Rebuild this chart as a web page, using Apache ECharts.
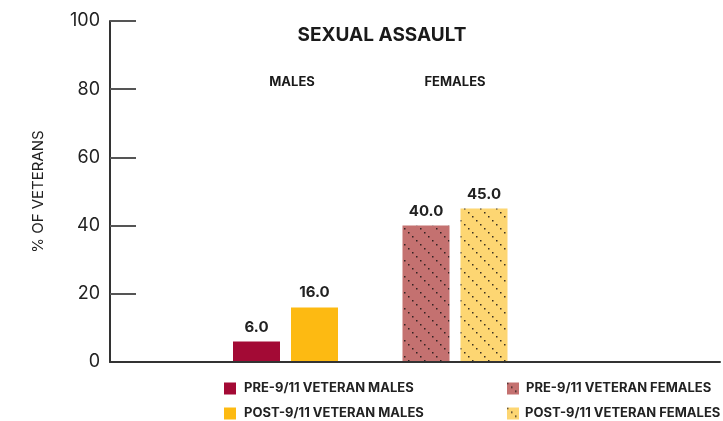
<!DOCTYPE html>
<html>
<head>
<meta charset="utf-8">
<script src="https://cdn.jsdelivr.net/npm/echarts@6/dist/echarts.min.js"></script>
<style>
html,body{margin:0;padding:0;background:#fff;}
#chart{width:723px;height:421px;}
</style>
</head>
<body>
<div id="chart"></div>
<script>
const chartTitle = 'SEXUAL ASSAULT';
const categories = ['MALES', 'FEMALES'];
const seriesNames = ['PRE-9/11 VETERAN MALES', 'POST-9/11 VETERAN MALES', 'PRE-9/11 VETERAN FEMALES', 'POST-9/11 VETERAN FEMALES'];
const preMales = [6.0, '-'];
const postMales = [16.0, '-'];
const preFemales = ['-', 40.0];
const postFemales = ['-', 45.0];
const yTicks = [0, 20, 40, 60, 80, 100];
const yName = '% OF VETERANS';

const FONT = 'Inter';

function makePattern(bg) {
  const s = 16;
  const c = document.createElement('canvas');
  c.width = s; c.height = s;
  const ctx = c.getContext('2d');
  ctx.fillStyle = bg;
  ctx.fillRect(0, 0, s, s);
  ctx.fillStyle = 'rgba(25,20,20,0.85)';
  for (let i = 0; i < 4; i++) {
    ctx.fillRect(i * 4, i * 4, 1.5, 1.5);
  }
  return { image: c, repeat: 'repeat' };
}

const colPreMale = '#A30A35';
const colPostMale = '#FDBA12';
const colPreFemale = '#C47170';
const colPostFemale = '#FDD672';

const labelCfg = {
  show: true,
  position: 'top',
  distance: 7,
  fontFamily: FONT,
  fontWeight: 'bold',
  fontSize: 15,
  color: '#222',
  formatter: p => (typeof p.value === 'number' ? p.value.toFixed(1) : '')
};

function legendFor(name, left, top, pad) {
  return {
    data: [name],
    orient: 'horizontal',
    left: left, top: top,
    padding: 0,
    itemWidth: 12, itemHeight: 12,
    icon: 'rect',
    textStyle: { fontFamily: FONT, fontWeight: 'bold', fontSize: 13, color: '#222', padding: [0, 0, 0, pad] }
  };
}

const chart = echarts.init(document.getElementById('chart'), null, { renderer: 'canvas' });
chart.setOption({
  animation: false,
  backgroundColor: '#fff',
  title: {
    text: chartTitle,
    left: 377,
    textAlign: 'center',
    top: 21,
    textStyle: { fontFamily: FONT, fontWeight: 'bold', fontSize: 19, color: '#1a1a1a' }
  },
  legend: [
    legendFor(seriesNames[0], 224, 382, 3),
    legendFor(seriesNames[1], 224, 407, 3),
    legendFor(seriesNames[2], 507, 382, 2),
    legendFor(seriesNames[3], 507, 407, 1)
  ],
  grid: [
    { left: 200.75, width: 339, top: 21, bottom: 59, containLabel: false },
    { left: 110, right: 3, top: 21, bottom: 59, containLabel: false }
  ],
  xAxis: [
    {
      type: 'category', gridIndex: 0, data: categories, position: 'top', offset: -68,
      axisLine: { show: false }, axisTick: { show: false },
      axisLabel: {
        margin: 0, fontFamily: FONT, fontWeight: 'bold', fontSize: 13, color: '#1a1a1a',
        formatter: v => (v === 'MALES' ? '{m|' + v + '}' : v),
        rich: { m: { padding: [0, 0, 0, 13], fontFamily: FONT, fontWeight: 'bold', fontSize: 13, color: '#1a1a1a' } }
      }
    },
    {
      type: 'value', gridIndex: 1, min: 0, max: 1, z: 5, position: 'bottom',
      axisLine: { show: true, onZero: false, lineStyle: { color: '#333', width: 2 } },
      axisTick: { show: false }, axisLabel: { show: false }, splitLine: { show: false }
    }
  ],
  yAxis: [
    { type: 'value', gridIndex: 0, min: 0, max: 100, show: false, splitLine: { show: false } },
    {
      type: 'value', gridIndex: 1, min: 0, max: 100, interval: 20, position: 'left',
      name: yName, nameLocation: 'middle', nameGap: 64,
      nameTextStyle: { fontFamily: FONT, fontSize: 15, color: '#222' },
      axisLine: { show: true, onZero: false, lineStyle: { color: '#333', width: 2 } },
      axisTick: { show: true, inside: true, length: 26, customValues: yTicks.filter(v => v > 0), lineStyle: { color: '#555', width: 2 } },
      axisLabel: { margin: 10, fontFamily: FONT, fontSize: 18, color: '#222' },
      splitLine: { show: false }
    }
  ],
  series: [
    { name: seriesNames[0], type: 'bar', xAxisIndex: 0, yAxisIndex: 0, stack: 'pre', data: preMales,
      barWidth: 47, barGap: '23.4%', itemStyle: { color: colPreMale }, label: labelCfg },
    { name: seriesNames[1], type: 'bar', xAxisIndex: 0, yAxisIndex: 0, stack: 'post', data: postMales,
      barWidth: 47, barGap: '23.4%', itemStyle: { color: colPostMale }, label: labelCfg },
    { name: seriesNames[2], type: 'bar', xAxisIndex: 0, yAxisIndex: 0, stack: 'pre', data: preFemales,
      barWidth: 47, barGap: '23.4%', itemStyle: { color: makePattern(colPreFemale) }, label: labelCfg },
    { name: seriesNames[3], type: 'bar', xAxisIndex: 0, yAxisIndex: 0, stack: 'post', data: postFemales,
      barWidth: 47, barGap: '23.4%', itemStyle: { color: makePattern(colPostFemale) }, label: labelCfg }
  ]
});
</script>
</body>
</html>
